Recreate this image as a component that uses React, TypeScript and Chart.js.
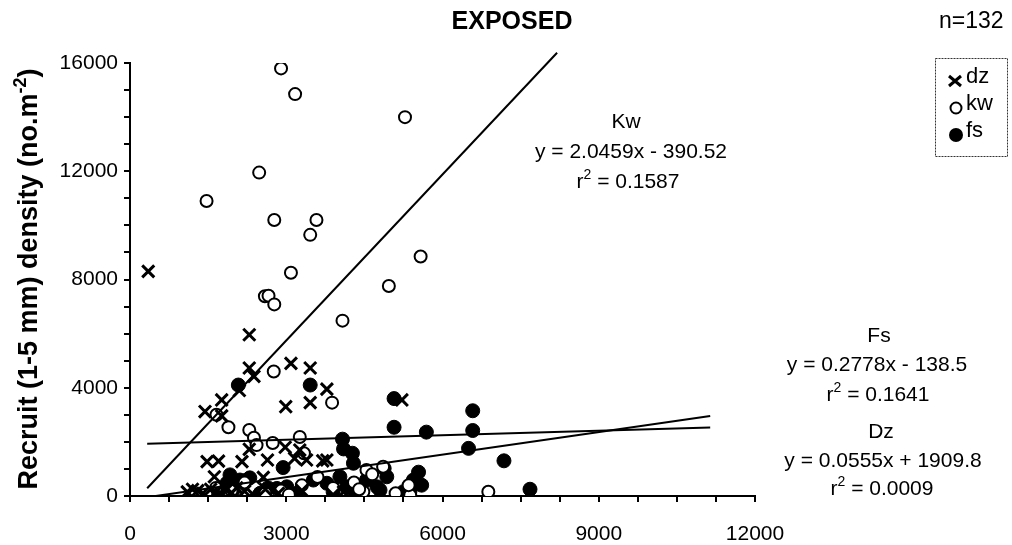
import { useEffect, useRef } from 'react';
import { Chart, registerables } from 'chart.js';

Chart.register(...registerables);

// ---- data ----
const dzX = [350, 2290, 3090, 2290, 3460, 2380, 2100, 3780, 1760, 2990, 3460, 1440, 1760, 5220, 2290, 2980, 3260, 1480, 1700, 2150, 2640, 3160, 3390, 3700, 3780, 1620, 2560, 3900, 1100, 1200, 1300, 1400, 1550, 1650, 1750, 1850, 1950, 2050, 2200, 2350, 2600, 2850, 3300, 4100];
const dzY = [8300, 5960, 4900, 4730, 4730, 4420, 3900, 3950, 3550, 3300, 3450, 3120, 2960, 3550, 1725, 1800, 1700, 1270, 1290, 1270, 1330, 1390, 1330, 1300, 1330, 710, 690, 40, 150, 250, 200, 100, 250, 150, 80, 220, 120, 300, 180, 80, 250, 100, 200, 150];

const kwX = [2900, 3170, 5280, 2480, 1470, 2770, 3580, 3460, 5580, 3090, 4970, 2590, 2660, 2770, 4080, 2760, 3880, 1660, 1890, 2290, 2380, 2430, 2740, 3260, 3340, 4540, 4860, 4480, 5380, 6880, 1650, 2200, 2900, 3300, 3600, 3900, 4300, 4650, 5100, 5350, 2600, 3050, 1950, 4400];
const kwY = [15800, 14850, 14000, 11950, 10900, 10200, 10200, 9650, 8850, 8250, 7760, 7380, 7400, 7080, 6480, 4600, 3450, 3000, 2540, 2440, 2150, 1880, 1960, 2180, 1580, 960, 1080, 160, 30, 160, 300, 500, 200, 400, 700, 300, 500, 800, 100, 400, 100, 50, 200, 250];

const fsX = [2080, 3460, 5070, 6580, 5070, 5690, 6580, 6500, 7180, 4080, 4100, 4270, 4290, 2940, 4880, 5540, 5440, 5600, 5380, 5250, 4800, 7680, 1920, 2240, 2110, 2300, 1860, 1980, 2820, 3010, 3520, 3780, 4030, 4160, 4290, 4540, 4740, 4930, 1700, 2500, 2650, 3200, 3900, 4450];
const fsY = [4100, 4100, 3600, 3150, 2540, 2360, 2420, 1760, 1300, 2100, 1740, 1580, 1210, 1050, 1020, 880, 590, 400, 220, 160, 220, 250, 780, 590, 590, 670, 470, 220, 280, 340, 590, 470, 710, 340, 220, 590, 340, 710, 150, 100, 300, 100, 150, 100];

// trend-line end points
const kwLineX = [330, 8200];
const kwLineY = [285, 16380];
const fsLineX = [330, 11140];
const fsLineY = [-45, 2955];
const dzLineX = [330, 11140];
const dzLineY = [1930, 2530];

const xTickLabels = [0, 3000, 6000, 9000, 12000];
const yTickLabels = [0, 4000, 8000, 12000, 16000];

const FONT = "'Liberation Sans', Arial, Helvetica, sans-serif";

const toPts = (xs: number[], ys: number[]) => xs.map((x, i) => ({ x, y: ys[i] }));

type Part = [string, boolean];

function drawParts(ctx: CanvasRenderingContext2D, parts: Part[], cx: number, cy: number, size: number, bold = false) {
  const w = (p: Part) => {
    ctx.font = `${bold ? 'bold ' : ''}${p[1] ? Math.round(size * 0.65) : size}px ${FONT}`;
    return ctx.measureText(p[0]).width;
  };
  const total = parts.reduce((s, p) => s + w(p), 0);
  let x = cx - total / 2;
  ctx.textBaseline = 'middle';
  ctx.textAlign = 'left';
  for (const p of parts) {
    const ww = w(p);
    ctx.fillText(p[0], x, p[1] ? cy - size * 0.35 : cy);
    x += ww;
  }
}

const textPlugin = {
  id: 'texts',
  afterDraw(chart: any) {
    const ctx: CanvasRenderingContext2D = chart.ctx;
    ctx.save();
    ctx.fillStyle = '#000';
    // title
    ctx.font = `bold 25px ${FONT}`;
    ctx.textAlign = 'center';
    ctx.textBaseline = 'middle';
    ctx.fillText('EXPOSED', 512, 22);
    ctx.font = `23px ${FONT}`;
    ctx.textAlign = 'left';
    ctx.fillText('n=132', 939, 22);

    // annotations
    const S = 21;
    drawParts(ctx, [['Kw', false]], 626, 122, S);
    drawParts(ctx, [['y = 2.0459x - 390.52', false]], 631, 152, S);
    drawParts(ctx, [['r', false], ['2', true], [' = 0.1587', false]], 628, 182, S);
    drawParts(ctx, [['Fs', false]], 879, 336, S);
    drawParts(ctx, [['y = 0.2778x - 138.5', false]], 877, 365, S);
    drawParts(ctx, [['r', false], ['2', true], [' = 0.1641', false]], 878, 395, S);
    drawParts(ctx, [['Dz', false]], 881, 432, S);
    drawParts(ctx, [['y = 0.0555x + 1909.8', false]], 883, 461, S);
    drawParts(ctx, [['r', false], ['2', true], [' = 0.0009', false]], 882, 489, S);

    // legend box
    ctx.strokeStyle = '#333';
    ctx.lineWidth = 1;
    ctx.setLineDash([2, 1]);
    ctx.strokeRect(935.5, 58.5, 72, 98);
    ctx.setLineDash([]);
    // dz marker
    ctx.lineWidth = 3;
    ctx.strokeStyle = '#000';
    const mx = 955;
    ctx.beginPath();
    ctx.moveTo(mx - 6, 81 - 5); ctx.lineTo(mx + 6, 81 + 5);
    ctx.moveTo(mx + 6, 81 - 5); ctx.lineTo(mx - 6, 81 + 5);
    ctx.stroke();
    // kw marker
    ctx.lineWidth = 2;
    ctx.beginPath();
    ctx.arc(mx + 1, 108, 5.5, 0, Math.PI * 2);
    ctx.fillStyle = '#fff';
    ctx.fill();
    ctx.stroke();
    // fs marker
    ctx.fillStyle = '#000';
    ctx.beginPath();
    ctx.arc(mx + 1, 135, 7, 0, Math.PI * 2);
    ctx.fill();
    ctx.font = `22px ${FONT}`;
    ctx.textAlign = 'left';
    ctx.textBaseline = 'middle';
    ctx.fillText('dz', 966, 77);
    ctx.fillText('kw', 966, 104);
    ctx.fillText('fs', 966, 131);

    // y-axis title
    ctx.save();
    ctx.translate(30, 279);
    ctx.rotate(-Math.PI / 2);
    drawParts(ctx, [['Recruit (1-5 mm) density (no.m', false], ['-2', true], [')', false]], 0, 0, 27, true);
    ctx.restore();

    ctx.restore();
  },
};

export default function App() {
  const ref = useRef<HTMLCanvasElement | null>(null);

  useEffect(() => {
    if (!ref.current) return;
    const lineDs = (label: string, xs: number[], ys: number[], clip: any) => ({
      type: 'line' as const,
      label,
      data: toPts(xs, ys),
      showLine: true,
      borderColor: '#000',
      borderWidth: 2,
      pointRadius: 0,
      fill: false,
      clip,
    });
    const chart = new Chart(ref.current, {
      type: 'scatter',
      data: {
        datasets: [
          lineDs('Kw trend', kwLineX, kwLineY, false),
          lineDs('Fs trend', fsLineX, fsLineY, undefined),
          lineDs('Dz trend', dzLineX, dzLineY, undefined),
          {
            label: 'dz',
            data: toPts(dzX, dzY),
            pointStyle: 'crossRot',
            pointRadius: 8.5,
            borderColor: '#000',
            borderWidth: 3,
            backgroundColor: '#000',
          },
          {
            label: 'kw',
            data: toPts(kwX, kwY),
            pointStyle: 'circle',
            pointRadius: 6,
            borderColor: '#000',
            borderWidth: 2,
            backgroundColor: '#fff',
          },
          {
            label: 'fs',
            data: toPts(fsX, fsY),
            pointStyle: 'circle',
            pointRadius: 7,
            borderColor: '#000',
            borderWidth: 1,
            backgroundColor: '#000',
          },
        ] as any,
      },
      options: {
        animation: false,
        responsive: false,
        devicePixelRatio: 1,
        layout: { padding: { left: 0, top: 63, right: 257, bottom: 0 } },
        plugins: { legend: { display: false }, tooltip: { enabled: false }, title: { display: false } },
        scales: {
          x: {
            type: 'linear',
            min: 0,
            max: 12000,
            afterFit: (s: any) => { s.height = 49; },
            border: { display: true, color: '#000', width: 2 },
            grid: { display: true, drawOnChartArea: false, drawTicks: true, tickLength: 6, color: '#000', lineWidth: 2 },
            ticks: {
              stepSize: 750,
              autoSkip: false,
              maxRotation: 0,
              padding: 20,
              color: '#000',
              font: { family: FONT, size: 21 },
              callback: (v: any) => (xTickLabels.includes(Number(v)) ? String(v) : ''),
            },
          },
          y: {
            type: 'linear',
            min: 0,
            max: 16000,
            afterFit: (s: any) => { s.width = 130; },
            border: { display: true, color: '#000', width: 2 },
            grid: { display: true, drawOnChartArea: false, drawTicks: true, tickLength: 6, color: '#000', lineWidth: 2 },
            ticks: {
              stepSize: 1000,
              autoSkip: false,
              padding: 6,
              color: '#000',
              font: { family: FONT, size: 21 },
              callback: (v: any) => (yTickLabels.includes(Number(v)) ? String(v) : ''),
            },
          },
        },
      },
      plugins: [textPlugin],
    });
    return () => chart.destroy();
  }, []);

  return (
    <div style={{ position: 'fixed', left: 0, top: 0, width: 1012, height: 545, background: '#fff' }}>
      <canvas ref={ref} width={1012} height={545} style={{ width: 1012, height: 545 }} />
    </div>
  );
}
